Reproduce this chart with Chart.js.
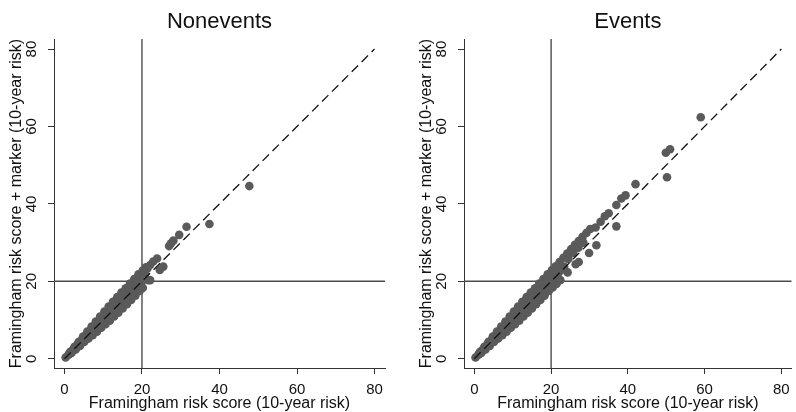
<!DOCTYPE html>
<html>
<head>
<meta charset="utf-8">
<script src="https://cdn.jsdelivr.net/npm/chart.js@4.4.1/dist/chart.umd.min.js"></script>
<style>
  html, body { margin: 0; padding: 0; background: #fff; }
  #wrap { position: relative; width: 796px; height: 412px; overflow: hidden; }
  canvas { position: absolute; top: 0; }
  #cNon { left: 0; }
  #cEv { left: 410px; }
</style>
</head>
<body>
<div id="wrap">
  <canvas id="cNon" width="400" height="412"></canvas>
  <canvas id="cEv" width="386" height="412"></canvas>
</div>
<script>
// axis ticks and the 20% high-risk cutoff
const tickValues = [0, 20, 40, 60, 80];
const riskCutoff = 20;
const xMin = -2.7, xMax = 82.7;
const yMin = -2.4, yMax = 82.6;

const xTitle = 'Framingham risk score (10-year risk)';
const yTitle = 'Framingham risk score + marker (10-year risk)';

// nonevents: FRS alone (x) vs FRS + marker (y), %
const nonFrs = [
  0.3, 1.0, 1.7, 2.4, 3.1, 3.8, 4.5, 5.2, 5.9, 6.6, 7.3, 8.0, 8.7, 9.4, 10.1, 10.8, 11.5, 12.2, 12.9, 13.6, 14.3, 15.0, 15.7, 16.4, 17.1, 17.8, 18.5, 19.2, 19.9,
  1.2, 2.3, 3.4, 4.5, 5.6, 6.7, 7.8, 8.9, 10.0, 11.1, 12.2, 13.3, 14.4, 15.5, 16.6, 17.7, 18.8, 19.6,
  1.5, 2.6, 3.7, 4.8, 5.9, 7.0, 8.1, 9.2, 10.3, 11.4, 12.5, 13.6, 14.7, 15.8, 16.9, 18.0, 19.1, 20.2, 21.0,
  1.4, 2.5, 3.6, 4.7, 5.8, 6.9, 8.0, 9.1, 10.2, 11.3, 12.4, 13.5, 14.6, 15.7, 16.8, 17.9, 19.0,
  1.8, 2.9, 4.0, 5.1, 6.2, 7.3, 8.4, 9.5, 10.6, 11.7, 12.8, 13.9, 15.0, 16.1, 17.2, 18.3, 19.4, 20.2,
  47.7, 37.4, 31.5, 29.6, 28.1, 27.5, 27.0, 25.5, 24.6, 23.9, 22.9, 22.1, 22.1, 21.4, 20.8, 19.9, 21.6
];
const nonMarker = [
  0.3, 1.0, 1.8, 2.4, 3.2, 3.8, 4.6, 5.2, 6.0, 6.6, 7.4, 8.1, 8.7, 9.5, 10.1, 10.9, 11.5, 12.3, 12.9, 13.7, 14.3, 15.1, 15.7, 16.5, 17.1, 17.9, 18.5, 19.3, 20.0,
  1.3, 2.5, 3.7, 4.9, 6.1, 7.3, 8.5, 9.7, 10.9, 12.1, 13.3, 14.5, 15.7, 16.9, 18.1, 19.3, 20.5, 21.4,
  1.8, 3.1, 4.4, 5.7, 7.0, 8.3, 9.6, 10.9, 12.2, 13.5, 14.7, 15.9, 17.1, 18.2, 19.4, 20.6, 21.8, 22.8, 23.6,
  1.3, 2.3, 3.3, 4.4, 5.4, 6.4, 7.4, 8.5, 9.5, 10.5, 11.5, 12.6, 13.6, 14.6, 15.6, 16.6, 17.7,
  1.5, 2.4, 3.3, 4.3, 5.2, 6.1, 7.0, 8.0, 8.9, 9.8, 10.9, 11.9, 13.0, 14.1, 15.2, 16.3, 17.5, 18.3,
  44.6, 34.8, 34.1, 32.0, 30.5, 29.8, 29.1, 23.8, 22.9, 25.9, 25.1, 24.2, 20.3, 23.3, 22.1, 18.6, 20.3
];

// events: FRS alone (x) vs FRS + marker (y), %
const evFrs = [
  0.3, 1.0, 1.7, 2.4, 3.1, 3.8, 4.5, 5.2, 5.9, 6.6, 7.3, 8.0, 8.7, 9.4, 10.1, 10.8, 11.5, 12.2, 12.9, 13.6, 14.3, 15.0, 15.7, 16.4, 17.1, 17.8, 18.5, 19.2, 19.9, 20.6, 21.3, 22.0, 22.7, 23.4,
  1.2, 2.3, 3.4, 4.5, 5.6, 6.7, 7.8, 8.9, 10.0, 11.1, 12.2, 13.3, 14.4, 15.5, 16.6, 17.7, 18.8, 19.9, 21.0,
  1.5, 2.6, 3.7, 4.8, 5.9, 7.0, 8.1, 9.2, 10.3, 11.4, 12.5, 13.6, 14.7, 15.8, 16.9, 18.0, 19.1, 20.2, 21.2, 22.2, 23.2, 24.2, 25.2, 26.2, 27.2, 28.2, 29.2, 30.2,
  24.5, 25.8, 27.1, 28.4,
  1.4, 2.5, 3.6, 4.7, 5.8, 6.9, 8.0, 9.1, 10.2, 11.3, 12.4, 13.5, 14.6, 15.7, 16.8, 17.9, 19.0, 20.1,
  1.8, 2.9, 4.0, 5.1, 6.2, 7.3, 8.4, 9.5, 10.6, 11.7, 12.8, 13.9, 15.0, 16.1, 17.2, 18.3, 19.4, 20.4, 21.4, 22.4,
  59.0, 49.9, 51.0, 50.2, 42.0, 39.4, 38.3, 37.0, 37.0, 35.0, 34.0, 32.9, 31.6, 31.8, 29.9, 27.2, 26.4, 24.3
];
const evMarker = [
  0.3, 1.0, 1.8, 2.5, 3.2, 3.9, 4.6, 5.3, 6.0, 6.7, 7.4, 8.1, 8.8, 9.5, 10.2, 10.9, 11.6, 12.3, 13.0, 13.7, 14.4, 15.1, 15.8, 16.5, 17.2, 17.9, 18.6, 19.3, 20.0, 20.8, 21.5, 22.3, 23.0, 23.8,
  1.3, 2.5, 3.7, 4.9, 6.1, 7.3, 8.5, 9.7, 10.9, 12.1, 13.3, 14.5, 15.7, 16.9, 18.1, 19.3, 20.5, 21.7, 22.9,
  1.8, 3.1, 4.4, 5.7, 7.0, 8.3, 9.6, 10.9, 12.2, 13.5, 14.7, 15.9, 17.1, 18.2, 19.4, 20.6, 21.8, 22.9, 23.9, 25.0, 26.1, 27.2, 28.3, 29.4, 30.4, 31.5, 32.5, 33.5,
  25.8, 27.3, 28.7, 30.0,
  1.3, 2.3, 3.3, 4.4, 5.4, 6.4, 7.4, 8.5, 9.5, 10.5, 11.5, 12.6, 13.6, 14.6, 15.6, 16.6, 17.7, 18.7,
  1.5, 2.4, 3.3, 4.3, 5.2, 6.1, 7.0, 8.0, 8.9, 9.8, 10.9, 11.9, 13.0, 14.1, 15.2, 16.3, 17.5, 18.4, 19.3, 20.3,
  62.4, 53.2, 54.1, 46.9, 45.1, 42.2, 41.4, 39.7, 34.2, 37.6, 36.8, 35.4, 33.9, 29.3, 27.3, 25.0, 24.4, 22.3
];

const fontFamily = '"Liberation Sans", Arial, Helvetica, sans-serif';
const textColor = '#111';
const axisColor = '#333';
const pointColor = '#5a5a5a';
const refLineColor = '#4c4c4c';

Chart.defaults.font.family = fontFamily;

// y tick labels are drawn turned 90°, reading upwards
const rotatedYTicks = {
  id: 'rotatedYTicks',
  afterDraw(chart) {
    const s = chart.scales.y;
    const ctx = chart.ctx;
    const cx = s.right - 22;
    ctx.save();
    ctx.fillStyle = textColor;
    ctx.font = '15px ' + fontFamily;
    ctx.textAlign = 'center';
    ctx.textBaseline = 'middle';
    s.ticks.forEach(t => {
      ctx.save();
      ctx.translate(cx, s.getPixelForValue(t.value));
      ctx.rotate(-Math.PI / 2);
      ctx.fillText(String(t.value), 0, 0);
      ctx.restore();
    });
    ctx.restore();
  }
};

function buildPanel(canvasId, title, frs, marker, rightPad) {
  const pts = frs.map((v, i) => ({ x: v, y: marker[i] }));
  const lo = tickValues[0], hi = tickValues[tickValues.length - 1];

  return new Chart(document.getElementById(canvasId), {
    type: 'scatter',
    plugins: [rotatedYTicks],
    data: {
      datasets: [
        // y = x reference, dashed, on top
        { data: [{ x: lo, y: lo }, { x: hi, y: hi }], showLine: true, borderColor: '#111',
          borderWidth: 1.3, borderDash: [9, 5], pointRadius: 0, order: 0 },
        { data: pts, pointRadius: 4.3, pointBackgroundColor: pointColor, pointBorderWidth: 0, order: 1 },
        // 20% cutoff lines
        { data: [{ x: riskCutoff, y: yMin }, { x: riskCutoff, y: yMax }], showLine: true,
          borderColor: refLineColor, borderWidth: 1.4, pointRadius: 0, order: 2 },
        { data: [{ x: xMin, y: riskCutoff }, { x: xMax, y: riskCutoff }], showLine: true,
          borderColor: refLineColor, borderWidth: 1.4, pointRadius: 0, order: 2 }
      ]
    },
    options: {
      responsive: false,
      animation: false,
      devicePixelRatio: 1,
      events: [],
      layout: { padding: { left: 0, right: rightPad, top: 0, bottom: 0 } },
      plugins: {
        legend: { display: false },
        tooltip: { enabled: false },
        title: {
          display: true, text: title, fullSize: false, color: textColor,
          font: { size: 22, weight: 'normal', lineHeight: 1.2 },
          padding: { top: 8.5, bottom: 4.1 }
        }
      },
      scales: {
        x: {
          type: 'linear', min: xMin, max: xMax,
          afterBuildTicks: s => { s.ticks = tickValues.map(v => ({ value: v })); },
          afterFit: s => { s.height = 44; s.paddingLeft = 0; s.paddingRight = 0; },
          grid: { drawOnChartArea: false, drawTicks: true, tickLength: 6, color: axisColor },
          border: { display: true, color: axisColor, width: 1 },
          ticks: { font: { size: 15 }, color: textColor, padding: 7, minRotation: 0, maxRotation: 0 },
          title: { display: true, text: xTitle, color: textColor,
                   font: { size: 16, lineHeight: 1.05 }, padding: 0 }
        },
        y: {
          type: 'linear', min: yMin, max: yMax,
          afterBuildTicks: s => { s.ticks = tickValues.map(v => ({ value: v })); },
          afterFit: s => { s.width = 54; s.paddingTop = 0; s.paddingBottom = 0; },
          grid: { drawOnChartArea: false, drawTicks: true, tickLength: 6, color: axisColor },
          border: { display: true, color: axisColor, width: 1 },
          ticks: { display: false },
          title: { display: true, text: yTitle, color: textColor,
                   font: { size: 16, lineHeight: 1.25 }, padding: { top: 6.5, bottom: 0 } }
        }
      }
    }
  });
}

buildPanel('cNon', 'Nonevents', nonFrs, nonMarker, 15);
buildPanel('cEv', 'Events', evFrs, evMarker, 1);
</script>
</body>
</html>
